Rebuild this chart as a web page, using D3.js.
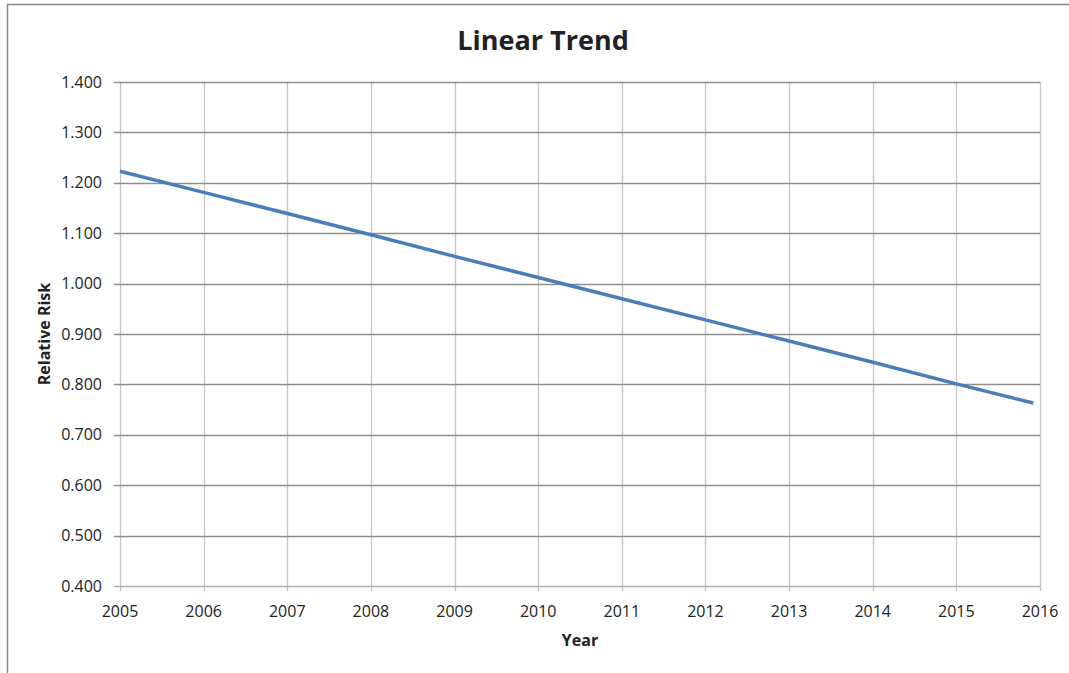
<!DOCTYPE html>
<html>
<head>
<meta charset="utf-8">
<script src="https://cdn.jsdelivr.net/npm/d3@7"></script>
<style>
  body { margin: 0; background: #fff; }
  text { font-family: "Open Sans", "Noto Sans", sans-serif; fill: #222; }
</style>
</head>
<body>
<div id="chart"></div>
<script>
var years = [2005, 2006, 2007, 2008, 2009, 2010, 2011, 2012, 2013, 2014, 2015, 2015.92];
var risk = [1.223, 1.181, 1.139, 1.097, 1.054, 1.012, 0.970, 0.928, 0.886, 0.844, 0.801, 0.763];
var x_ticks = [2005, 2006, 2007, 2008, 2009, 2010, 2011, 2012, 2013, 2014, 2015, 2016];
var y_ticks = [0.4, 0.5, 0.6, 0.7, 0.8, 0.9, 1.0, 1.1, 1.2, 1.3, 1.4];

var width = 1069, height = 673,
    margin = {top: 82, right: 29, bottom: 87, left: 120};

var svg = d3.select('#chart').append('svg')
    .attr('width', width)
    .attr('height', height);

// outer frame (only top and left edges are visible)
svg.append('path')
    .attr('d', 'M7.5,' + height + 'V4.5H' + width)
    .attr('fill', 'none')
    .attr('stroke', '#888')
    .attr('stroke-width', 1.5);

var x = d3.scaleLinear().domain([2005, 2016]).range([margin.left, width - margin.right]),
    y = d3.scaleLinear().domain([0.4, 1.4]).range([height - margin.bottom, margin.top]);

var grid = svg.append('g').attr('class', 'grid');
grid.selectAll('line.v')
    .data(x_ticks)
    .enter().append('line')
    .attr('class', 'v')
    .attr('x1', function(d) { return Math.round(x(d)) + 0.5; })
    .attr('x2', function(d) { return Math.round(x(d)) + 0.5; })
    .attr('y1', y(1.4))
    .attr('y2', y(0.4) + 5)
    .attr('stroke', '#c4c4c4')
    .attr('stroke-width', 1.3);
grid.selectAll('line.h')
    .data(y_ticks)
    .enter().append('line')
    .attr('class', 'h')
    .attr('x1', x(2005) - 6)
    .attr('x2', x(2016))
    .attr('y1', function(d) { return Math.round(y(d)) + 0.5; })
    .attr('y2', function(d) { return Math.round(y(d)) + 0.5; })
    .attr('stroke', function(d) { return d === 0.4 ? '#b0b0b0' : '#8e8e8e'; })
    .attr('stroke-width', 1.3);

// tick labels
svg.append('g').selectAll('text')
    .data(y_ticks)
    .enter().append('text')
    .attr('x', x(2005) - 18)
    .attr('y', function(d) { return y(d); })
    .attr('dy', '0.35em')
    .attr('text-anchor', 'end')
    .style('font-size', '16px')
    .text(function(d) { return d3.format('.3f')(d); });

svg.append('g').selectAll('text')
    .data(x_ticks)
    .enter().append('text')
    .attr('x', function(d) { return x(d); })
    .attr('y', y(0.4) + 31)
    .attr('text-anchor', 'middle')
    .style('font-size', '16px')
    .text(function(d) { return d; });

// line
var line = d3.line()
    .x(function(d, i) { return x(years[i]); })
    .y(function(d) { return y(d); });

svg.append('path')
    .datum(risk)
    .attr('d', line)
    .attr('fill', 'none')
    .attr('stroke', '#4a7ebb')
    .attr('stroke-width', 3.5)
    .attr('stroke-linecap', 'butt');

// titles
svg.append('text')
    .attr('x', 543)
    .attr('y', 50)
    .attr('text-anchor', 'middle')
    .style('font-size', '27px')
    .style('font-weight', 'bold')
    .text('Linear Trend');

svg.append('text')
    .attr('x', x(2010.5))
    .attr('y', 646)
    .attr('text-anchor', 'middle')
    .style('font-size', '16px')
    .style('font-weight', 'bold')
    .text('Year');

svg.append('text')
    .attr('transform', 'translate(50,' + y(0.9) + ') rotate(-90)')
    .attr('text-anchor', 'middle')
    .style('font-size', '16px')
    .style('font-weight', 'bold')
    .text('Relative Risk');
</script>
</body>
</html>
